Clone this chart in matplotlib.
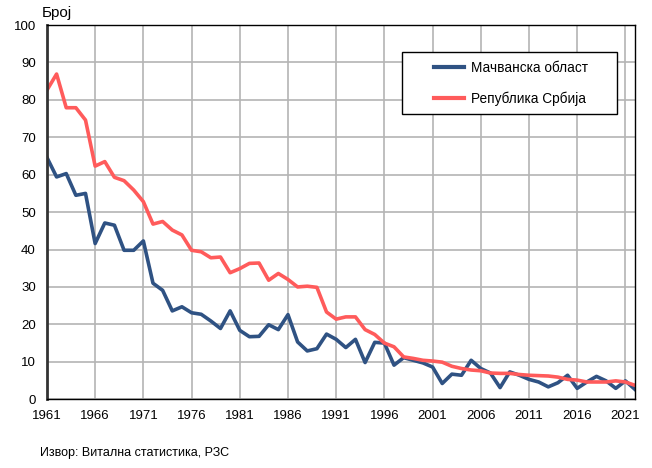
import numpy as np
import matplotlib
matplotlib.use("Agg")
import matplotlib.pyplot as plt
from matplotlib.patches import Rectangle

plt.rcParams['font.family'] = ['Liberation Sans', 'DejaVu Sans']

# Године
years = list(range(1961, 2023))

# Мачванска област
macva = [64.6, 59.4, 60.3, 54.5, 55.0, 41.6, 47.1, 46.5, 39.8, 39.8,
         42.3, 31.0, 29.1, 23.6, 24.7, 23.1, 22.7, 20.9, 18.9, 23.6,
         18.4, 16.7, 16.8, 19.9, 18.6, 22.6, 15.3, 12.9, 13.5, 17.4,
         16.0, 13.8, 16.0, 9.8, 15.2, 15.0, 9.1, 11.1, 10.4, 9.7,
         8.6, 4.2, 6.7, 6.4, 10.4, 8.2, 7.0, 3.1, 7.3, 6.4,
         5.3, 4.6, 3.3, 4.4, 6.4, 2.9, 4.6, 6.1, 4.9, 2.9,
         4.9, 2.6]

# Република Србија
srbija = [82.6, 86.9, 77.9, 77.9, 74.6, 62.3, 63.5, 59.3, 58.4, 55.9,
          52.8, 46.8, 47.5, 45.2, 43.9, 39.8, 39.4, 37.8, 38.0, 33.8,
          34.9, 36.3, 36.4, 31.8, 33.6, 32.0, 30.0, 30.2, 29.9, 23.3,
          21.4, 22.0, 22.0, 18.6, 17.3, 15.0, 14.0, 11.3, 10.9, 10.4,
          10.2, 9.9, 8.8, 8.2, 7.8, 7.6, 7.0, 6.9, 6.9, 6.6,
          6.4, 6.3, 6.2, 5.9, 5.3, 5.1, 4.6, 4.6, 4.6, 4.9,
          4.6, 3.7]

xticks = list(range(1961, 2022, 5))
yticks = list(range(0, 101, 10))

fig = plt.figure(figsize=(6.52, 4.68), dpi=100)
ax = fig.add_axes([0.072, 0.147, 0.902, 0.7995])

ax.plot(years, macva, color="#2f5283", linewidth=2.6, label="Мачванска област")
ax.plot(years, srbija, color="#ff5b5b", linewidth=2.6, label="Република Србија")

ax.set_xlim(1961, 2022)
ax.set_ylim(0, 100)
ax.set_xticks(xticks)
ax.set_yticks(yticks)
ax.tick_params(length=0, labelsize=9.5, pad=8)
ax.grid(True, color="#b4b4b4", linewidth=1.2)
ax.set_axisbelow(True)
for side in ["top", "right", "bottom"]:
    ax.spines[side].set_color("black")
    ax.spines[side].set_linewidth(1.0)
ax.spines["left"].set_color("#333333")
ax.spines["left"].set_linewidth(2.0)

# рамка легенде (шира хоризонтална маргина него што legend дозвољава)
box = Rectangle((0.604, 0.762), 0.365, 0.166, transform=ax.transAxes,
                facecolor="white", edgecolor="black", linewidth=1.0, zorder=4)
ax.add_patch(box)
leg = ax.legend(loc="upper left", bbox_to_anchor=(0.658, 0.905), fontsize=9.8,
                frameon=False, borderpad=0, borderaxespad=0,
                labelspacing=1.25, handlelength=2.2, handletextpad=0.5)
leg.set_zorder(5)
for line in leg.get_lines():
    line.set_linewidth(3.0)

fig.text(0.064, 0.9637, "Број", fontsize=11, ha="left", va="baseline")
fig.text(0.061, 0.02, "Извор: Витална статистика, РЗС", fontsize=9, ha="left", va="bottom")

fig.savefig("out.png", dpi=100)
